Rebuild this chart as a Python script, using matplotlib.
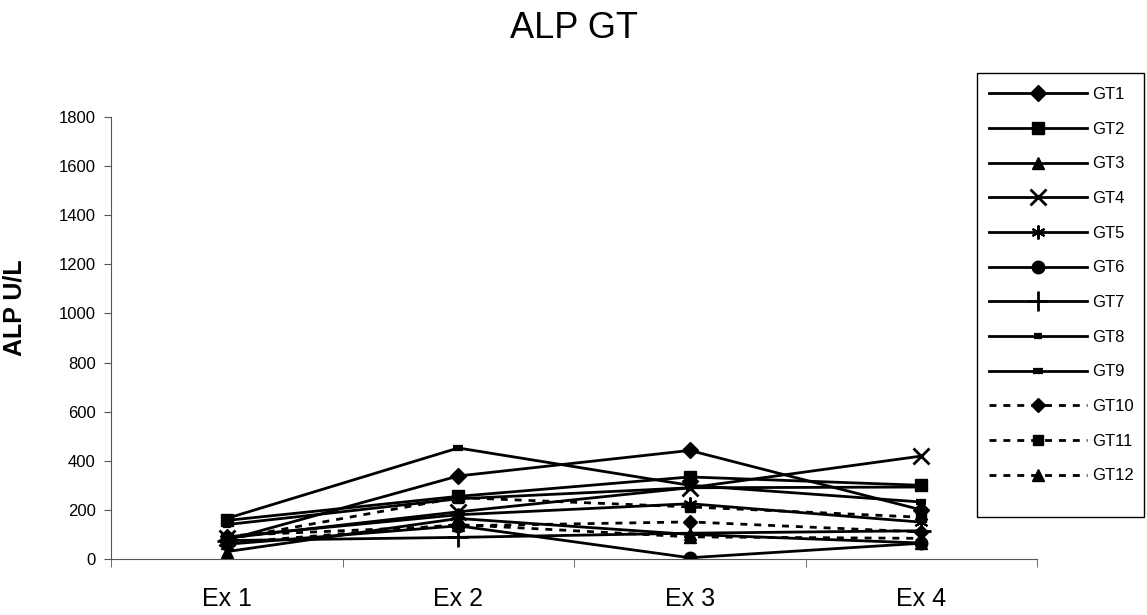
import matplotlib
matplotlib.use('Agg')
import matplotlib.pyplot as plt
from matplotlib.patches import Rectangle
import numpy as np

plt.rcParams['font.family'] = ['Liberation Sans', 'DejaVu Sans']

categories = ['Ex 1', 'Ex 2', 'Ex 3', 'Ex 4']
series_names = ['GT1', 'GT2', 'GT3', 'GT4', 'GT5', 'GT6',
                'GT7', 'GT8', 'GT9', 'GT10', 'GT11', 'GT12']
gt1 = [77, 338, 442, 200]
gt2 = [157, 255, 334, 300]
gt3 = [30, 165, 100, 65]
gt4 = [85, 192, 290, 419]
gt5 = [90, 180, 225, 150]
gt6 = [60, 135, 5, 64]
gt7 = [75, 88, 105, 115]
gt8 = [140, 245, 290, 293]
gt9 = [165, 452, 300, 232]
gt10 = [95, 135, 151, 110]
gt11 = [80, 250, 212, 170]
gt12 = [65, 140, 90, 84]
values = [gt1, gt2, gt3, gt4, gt5, gt6, gt7, gt8, gt9, gt10, gt11, gt12]

markers = ['D', 's', '^', 'x', (6, 2, 0), 'o', '+', '_', '_', 'D', 's', '^']
msizes = [8, 8, 9, 11, 10, 9, 14, 6, 7, 7, 7, 8]
mews = [1, 1, 1, 2, 1.5, 1, 2, 4.5, 4.5, 1, 1, 1]
styles = ['-'] * 9 + [(0, (2.5, 2.5))] * 3

fig = plt.figure(figsize=(11.47, 6.15), dpi=100)
ax = fig.add_axes([0.0968, 0.0911, 0.8073, 0.7187])

x = np.arange(1, len(categories) + 1)
for name, vals, m, ms, mew, ls in zip(series_names, values, markers, msizes, mews, styles):
    ax.plot(x, vals, color='black', linestyle=ls, linewidth=2,
            marker=m, markersize=ms, markeredgewidth=mew, label=name)

ax.set_xlim(0.5, 4.5)
ax.set_ylim(0, 1800)
ax.set_yticks(np.arange(0, 1801, 200))
ax.set_xticks(x)
ax.set_xticklabels(categories, fontsize=18)
ax.set_xticks(np.arange(0.5, 4.6, 1), minor=True)
ax.tick_params(axis='x', which='major', length=0, pad=20)
ax.tick_params(axis='x', which='minor', length=6, direction='out', color='#555555')
ax.tick_params(axis='y', length=5, direction='out', labelsize=12, color='#555555', pad=6)
for s in ['top', 'right']:
    ax.spines[s].set_visible(False)
for s in ['left', 'bottom']:
    ax.spines[s].set_color('#555555')

ax.set_ylabel('ALP U/L', fontsize=18, fontweight='bold')
ax.yaxis.set_label_coords(27 / 1147, 0.5, transform=fig.transFigure)
fig.text(0.5, 1 - 28 / 615, 'ALP GT', fontsize=26, ha='center', va='center')

# legend frame drawn by hand, entries placed inside it
fig.patches.append(Rectangle((977 / 1147, 1 - 517 / 615), 167 / 1147, 444 / 615,
                             transform=fig.transFigure, fill=False,
                             edgecolor='black', linewidth=1))
leg = ax.legend(loc='upper left', bbox_to_anchor=(989 / 1147, 1 - 87 / 615),
                bbox_transform=fig.transFigure, fontsize=12,
                handlelength=5.9, labelspacing=1.18, handletextpad=0.3,
                borderpad=0, borderaxespad=0, frameon=False)

fig.savefig('out.png', dpi=100)
